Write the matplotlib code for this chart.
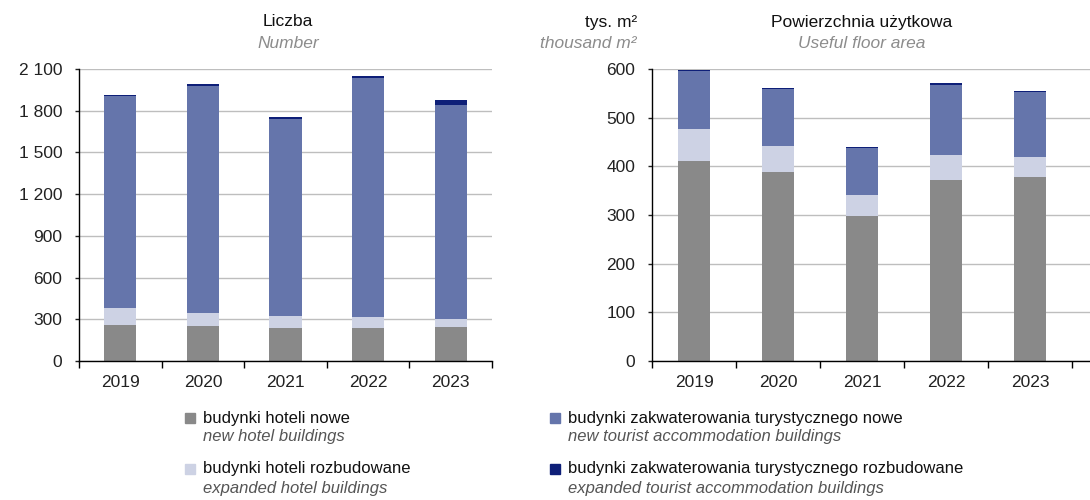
import matplotlib
matplotlib.use('Agg')
import matplotlib.pyplot as plt
from matplotlib.patches import Rectangle
from matplotlib.ticker import FuncFormatter
import numpy as np

plt.rcParams['font.family'] = ['Liberation Sans', 'DejaVu Sans']

years = ['2019', '2020', '2021', '2022', '2023']

# Liczba (number of buildings)
cnt_hotel_new = [262, 255, 238, 238, 246]
cnt_hotel_exp = [122, 93, 86, 77, 59]
cnt_tour_new = [1521, 1630, 1414, 1718, 1535]
cnt_tour_exp = [11, 17, 14, 17, 34]

# Powierzchnia uzytkowa (thousand m2)
area_hotel_new = [411, 389, 297, 371, 379]
area_hotel_exp = [66, 53, 44, 52, 41]
area_tour_new = [118, 117, 96, 145, 132]
area_tour_exp = [2, 2, 2, 3, 2]

colors = ['#898989', '#CDD2E4', '#6575AB', '#0E1F78']
pl_labels = ['budynki hoteli nowe', 'budynki hoteli rozbudowane',
             'budynki zakwaterowania turystycznego nowe',
             'budynki zakwaterowania turystycznego rozbudowane']
en_labels = ['new hotel buildings', 'expanded hotel buildings',
             'new tourist accommodation buildings',
             'expanded tourist accommodation buildings']

fig = plt.figure(figsize=(10.9, 5.0), dpi=100)
ax1 = fig.add_axes([79 / 1090, 139 / 500, 413 / 1090, 292 / 500])
ax2 = fig.add_axes([652 / 1090, 139 / 500, 438 / 1090, 292 / 500])


def draw(ax, series, ymax, step, xmax):
    x = np.arange(len(years))
    bottom = np.zeros(len(years))
    for vals, c in zip(series, colors):
        ax.bar(x, vals, 0.39, bottom=bottom, color=c, linewidth=0, zorder=3)
        bottom += np.array(vals)
    ax.set_xlim(-0.5, xmax)
    ax.set_ylim(0, ymax)
    ax.set_yticks(np.arange(0, ymax + 1, step))
    ax.yaxis.set_major_formatter(
        FuncFormatter(lambda v, p: f'{int(v):,}'.replace(',', ' ')))
    ax.set_xticks(np.arange(-0.5, len(years), 1.0))
    ax.set_xticklabels([])
    ax.set_xticks(x, minor=True)
    ax.set_xticklabels(years, minor=True)
    ax.tick_params(axis='x', which='minor', length=0, labelsize=12.5, pad=10, colors='#222222')
    ax.tick_params(axis='x', which='major', length=5, width=1, direction='out')
    ax.tick_params(axis='y', length=3, width=1, labelsize=12.5, colors='#222222', pad=9)
    ax.grid(axis='y', color='#BEBEBE', linewidth=1, zorder=0)
    for s in ['top', 'right']:
        ax.spines[s].set_visible(False)
    for s in ['left', 'bottom']:
        ax.spines[s].set_color('black')
        ax.spines[s].set_linewidth(1)
        ax.spines[s].set_zorder(4)


draw(ax1, [cnt_hotel_new, cnt_hotel_exp, cnt_tour_new, cnt_tour_exp], 2100, 300, 4.5)
draw(ax2, [area_hotel_new, area_hotel_exp, area_tour_new, area_tour_exp], 600, 100,
     (1090 - 652) / 84 - 0.5)

# headers
fig.text(288 / 1090, 1 - 22 / 500, 'Liczba', ha='center', va='center', fontsize=12.5, color='#111111')
fig.text(288 / 1090, 1 - 44 / 500, 'Number', ha='center', va='center', fontsize=12.5,
         color='#8C8C8C', style='italic')
fig.text(637 / 1090, 1 - 22 / 500, 'tys. m²', ha='right', va='center', fontsize=12.5, color='#111111')
fig.text(637 / 1090, 1 - 44 / 500, 'thousand m²', ha='right', va='center', fontsize=12.5,
         color='#8C8C8C', style='italic')
fig.text(862 / 1090, 1 - 22 / 500, 'Powierzchnia użytkowa', ha='center', va='center',
         fontsize=12.5, color='#111111')
fig.text(862 / 1090, 1 - 44 / 500, 'Useful floor area', ha='center', va='center',
         fontsize=12.5, color='#8C8C8C', style='italic')

# legend
pos = [(190, 418), (190, 469), (555, 418), (555, 469)]
for (px, py), c, pl, en in zip(pos, colors, pl_labels, en_labels):
    fig.patches.append(Rectangle(((px - 5) / 1090, 1 - (py + 5) / 500), 10 / 1090, 10 / 500,
                                 transform=fig.transFigure, color=c, figure=fig))
    fig.text((px + 13) / 1090, 1 - py / 500, pl, ha='left', va='center', fontsize=12, color='#111111')
    fig.text((px + 13) / 1090, 1 - (py + 19) / 500, en, ha='left', va='center', fontsize=12,
             color='#555555', style='italic')

fig.savefig('out.png', dpi=100)
